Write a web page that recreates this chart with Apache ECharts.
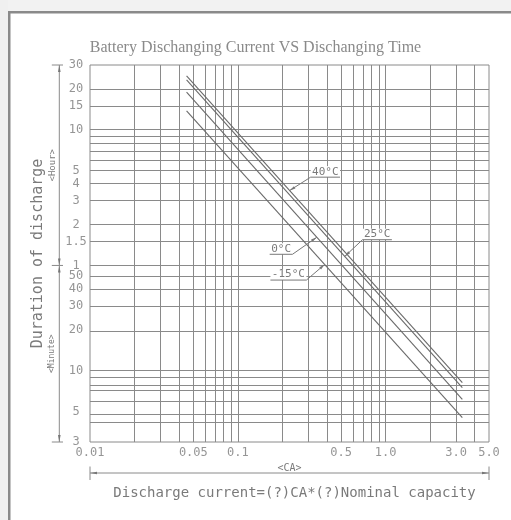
<!DOCTYPE html>
<html><head><meta charset="utf-8">
<script src="https://cdn.jsdelivr.net/npm/echarts@6/dist/echarts.min.js"></script>
<style>html,body{margin:0;padding:0;background:#fff;}#c{width:511px;height:520px;}</style>
</head><body><div id="c"></div>
<script>
// ---------- data ----------
const titleText = 'Battery Dischanging Current VS Dischanging Time';
const xAxisName = 'Discharge current=(?)CA*(?)Nominal capacity';
const xUnit = '<CA>';
const yAxisName = 'Duration of discharge';
const yUnitHour = '<Hour>';
const yUnitMinute = '<Minute>';

const seriesNames = ['40°C', '25°C', '0°C', '-15°C'];
const currentCA = [0.045, 3.3];          // discharge current (CA)
const hours40 = [24.9, 0.137];           // duration (hours)
const hours25 = [23.3, 0.126];
const hours0 = [18.9, 0.103];
const hoursM15 = [13.8, 0.0757];

const xMin = 0.01, xMax = 5;
const yMinHour = 0.05, yMaxHour = 30;
const xGridValues = [0.02,0.03,0.04,0.05,0.06,0.07,0.08,0.09,0.1,0.2,0.3,0.4,0.5,0.6,0.7,0.8,0.9,1,2,3,4];
const yGridHours = [20,15,10,9,8,7,6,5,4,3,2,1.5,1];
const yGridMinutes = [50,40,30,20,10,9,8,7,6,5,4];
const xTickValues = [0.01,0.05,0.1,0.5,1,3,5];
const xTickTexts = ['0.01','0.05','0.1','0.5','1.0','3.0','5.0'];
const yTickHours = [30,20,15,10,5,4,3,2,1.5,1];
const yTickHourTexts = ['30','20','15','10','5','4','3','2','1.5','1'];
const yTickMinutes = [50,40,30,20,10,5,3];
const yTickMinuteTexts = ['50','40','30','20','10','5','3'];
const leaderCA = [0.224, 0.529, 0.342, 0.387];

// ---------- styling / layout ----------
const GRID = '#8a8a8a', INK = '#7a7a7a', CAD = "'DejaVu Sans Mono', monospace";
const annotLayout = [
  {dx: 21, dy: -13.4, side: 'right'},
  {dx: 17.7, dy: -16.7, side: 'right'},
  {dx: -24.3, dy: 17, side: 'left'},
  {dx: -18.3, dy: 15.6, side: 'left'}
];

const seriesHours = [hours40, hours25, hours0, hoursM15];
const lineSeries = seriesNames.map((n, i) => ({
  name: n, type: 'line', z: 5, symbol: 'none', silent: true,
  data: currentCA.map((c, j) => [c, seriesHours[i][j]]),
  lineStyle: {color: '#6a6a6a', width: 1.1}
}));

const gridMarkLines = [].concat(
  xGridValues.map(v => ({xAxis: v})),
  yGridHours.map(v => ({yAxis: v})),
  yGridMinutes.map(v => ({yAxis: v / 60}))
);

const yTickAll = yTickHours.concat(yTickMinutes.map(m => m / 60));
const yTickTextAll = yTickHourTexts.concat(yTickMinuteTexts);

const option = {
  backgroundColor: '#ffffff',
  animation: false,
  title: {
    text: titleText, left: 'center', top: 35,
    textStyle: {fontFamily: "'Liberation Serif', serif", fontSize: 16, fontWeight: 'normal', color: '#8a8a8a'}
  },
  grid: {left: 90, right: 22, top: 65, bottom: 78, show: true, borderColor: GRID, borderWidth: 1, backgroundColor: 'transparent'},
  xAxis: {type: 'log', logBase: 10, min: xMin, max: xMax,
    axisLine: {show: false}, axisTick: {show: false}, axisLabel: {show: false}, splitLine: {show: false}, minorSplitLine: {show: false}},
  yAxis: {type: 'log', logBase: 10, min: yMinHour, max: yMaxHour,
    axisLine: {show: false}, axisTick: {show: false}, axisLabel: {show: false}, splitLine: {show: false}, minorSplitLine: {show: false}},
  series: [
    {
      type: 'scatter', name: 'xticks', z: 2, symbolSize: 0, silent: true,
      data: xTickValues.map(v => [v, yMinHour]),
      label: {show: true, position: 'bottom', distance: 5, color: INK, fontFamily: CAD, fontSize: 12,
        formatter: p => xTickTexts[p.dataIndex]},
      markLine: {silent: true, symbol: 'none', animation: false,
        label: {show: false}, lineStyle: {color: GRID, width: 1, type: 'solid'},
        data: gridMarkLines}
    },
    {
      type: 'scatter', name: 'yticks', z: 2, symbolSize: 0, silent: true,
      data: yTickAll.map(v => [xMin, v]),
      label: {show: true, position: 'left', distance: 14, align: 'center', color: INK, fontFamily: CAD, fontSize: 12,
        formatter: p => yTickTextAll[p.dataIndex]}
    }
  ].concat(lineSeries)
};

const chart = echarts.init(document.getElementById('c'), null, {renderer: 'canvas'});
chart.setOption(option);

// ---------- annotations built from axis conversions ----------
const P = (x, y) => chart.convertToPixel({xAxisIndex: 0, yAxisIndex: 0}, [x, y]);
const g = [];
const stroke = {stroke: GRID, lineWidth: 1, fill: null};
function line(x1, y1, x2, y2, st) {
  g.push({type: 'line', silent: true, z: 50, shape: {x1, y1, x2, y2}, style: Object.assign({}, stroke, st || {})});
}
function arrow(tx, ty, fx, fy, len, hw) {
  const dx = tx - fx, dy = ty - fy, L = Math.hypot(dx, dy), ux = dx / L, uy = dy / L;
  const bx = tx - ux * len, by = ty - uy * len;
  g.push({type: 'polygon', silent: true, z: 51,
    shape: {points: [[tx, ty], [bx - uy * hw, by + ux * hw], [bx + uy * hw, by - ux * hw]]},
    style: {fill: '#777', stroke: null}});
}
function text(t, x, y, size, opts) {
  g.push(Object.assign({type: 'text', silent: true, z: 52, x, y,
    style: {text: t, fill: INK, font: size + 'px ' + CAD, align: 'center', verticalAlign: 'middle'}}, opts || {}));
}

// page frame
g.push({type: 'rect', silent: true, z: 40, shape: {x: 0, y: 0, width: 511, height: 11}, style: {fill: '#f2f2f2'}});
g.push({type: 'rect', silent: true, z: 40, shape: {x: 0, y: 0, width: 8, height: 520}, style: {fill: '#f0f0f0'}});
// cropped page heading descenders
g.push({type: 'text', silent: true, z: 42, x: 112, y: -2, style: {text: 'g', fill: '#1e9ad6', font: 'bold 30px "Liberation Sans"', align: 'center', verticalAlign: 'bottom'}});
g.push({type: 'text', silent: true, z: 42, x: 348, y: -2, style: {text: 'g', fill: '#1e9ad6', font: 'bold 30px "Liberation Sans"', align: 'center', verticalAlign: 'bottom'}});
g.push({type: 'rect', silent: true, z: 43, shape: {x: 8, y: 11, width: 503, height: 2.5}, style: {fill: '#8a8a8a'}});
g.push({type: 'rect', silent: true, z: 43, shape: {x: 8, y: 11, width: 2.5, height: 509}, style: {fill: '#8a8a8a'}});

const pTL = P(xMin, yMaxHour), pBR = P(xMax, yMinHour), p1h = P(xMin, 1);
// vertical dimension line
const dX = pTL[0] - 30.7;
line(dX, pTL[1], dX, pBR[1]);
[pTL[1], p1h[1], pBR[1]].forEach(y => line(dX - 7.5, y, dX + 3.7, y));
arrow(dX, pTL[1], dX, pTL[1] + 10, 7, 1.3);
arrow(dX, p1h[1], dX, p1h[1] - 10, 7, 1.3);
arrow(dX, p1h[1], dX, p1h[1] + 10, 7, 1.3);
arrow(dX, pBR[1], dX, pBR[1] - 10, 7, 1.3);
text(yUnitHour, dX - 6.5, (pTL[1] + p1h[1]) / 2, 9, {rotation: Math.PI / 2});
text(yUnitMinute, dX - 7, (p1h[1] + pBR[1]) / 2, 8, {rotation: Math.PI / 2});
text(yAxisName, pTL[0] - 52, (pTL[1] + pBR[1]) / 2, 15, {rotation: Math.PI / 2});
// horizontal dimension line
const dY = pBR[1] + 31;
line(pTL[0], dY, pBR[0], dY);
line(pTL[0], dY - 6.5, pTL[0], dY + 7);
line(pBR[0], dY - 6.5, pBR[0], dY + 7);
arrow(pTL[0], dY, pTL[0] + 10, dY, 7, 1.3);
arrow(pBR[0], dY, pBR[0] - 10, dY, 7, 1.3);
text(xUnit, (pTL[0] + pBR[0]) / 2, dY - 5, 10);
text(xAxisName, (pTL[0] + pBR[0]) / 2 + 5, dY + 20, 14);

// series leaders
seriesNames.forEach((n, i) => {
  const h = seriesHours[i];
  const t = (Math.log10(leaderCA[i]) - Math.log10(currentCA[0])) / (Math.log10(currentCA[1]) - Math.log10(currentCA[0]));
  const yv = Math.pow(10, Math.log10(h[0]) + t * (Math.log10(h[1]) - Math.log10(h[0])));
  const tp = P(leaderCA[i], yv);
  const L = annotLayout[i];
  const ax = tp[0] + L.dx, ay = tp[1] + L.dy;
  const w = n.length * 6.6 + 3;
  const x0 = L.side === 'right' ? ax : ax - w, x1 = x0 + w;
  g.push({type: 'rect', silent: true, z: 48, shape: {x: x0, y: ay - 11, width: w, height: 11}, style: {fill: '#fff'}});
  line(x0, ay, x1, ay, {stroke: '#777'});
  line(ax, ay, tp[0], tp[1], {stroke: '#777'});
  arrow(tp[0], tp[1], ax, ay, 6, 1.4);
  text(n, (x0 + x1) / 2, ay - 5.5, 11);
});

chart.setOption({graphic: {elements: g}});
</script>
</body></html>
